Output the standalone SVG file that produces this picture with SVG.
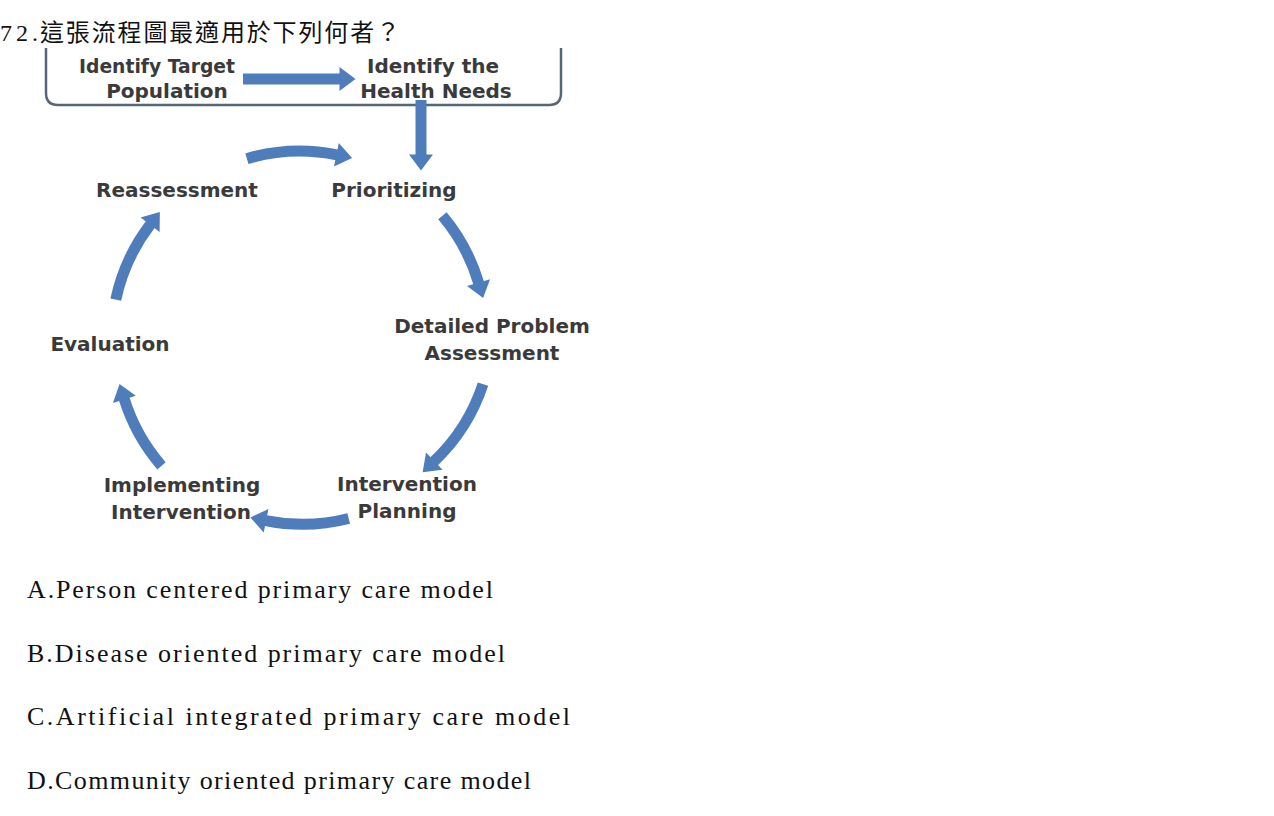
<svg xmlns="http://www.w3.org/2000/svg" width="1274" height="816" viewBox="0 0 1274 816">
<style>
.q{font-family:"Liberation Serif","Noto Sans CJK TC",serif;font-size:24px;fill:#111}
.opt{font-family:"Liberation Serif",serif;font-size:26px;fill:#111}
.lbl{font-family:"DejaVu Sans",Verdana,sans-serif;font-size:20px;font-weight:bold;fill:#3a3a3a;text-anchor:middle}
.arc{fill:none;stroke:#4f7cba;stroke-width:11;stroke-linecap:butt}
</style>
<defs>
<marker id="ah" viewBox="-1 -13 18 26" refX="0.5" refY="0" markerWidth="18" markerHeight="26" markerUnits="userSpaceOnUse" orient="auto">
<path d="M0,-12 L16,0 L0,12 z" fill="#4f7cba"/>
</marker>
</defs>
<rect width="1274" height="816" fill="#fff"/>
<text class="q" x="0" y="41"><tspan textLength="38" lengthAdjust="spacing">72.</tspan><tspan x="40" textLength="360" lengthAdjust="spacing">這張流程圖最適用於下列何者？</tspan></text>
<path d="M46,48 V93 Q46,105 58,105 H549 Q561,105 561,93 V48" fill="none" stroke="#56657a" stroke-width="2.5"/>
<g id="n-target"><text class="lbl" x="157" y="73" textLength="156" lengthAdjust="spacingAndGlyphs">Identify Target</text><text class="lbl" x="167" y="98">Population</text></g>
<g id="n-needs"><text class="lbl" x="433" y="73">Identify the</text><text class="lbl" x="436" y="98">Health Needs</text></g>
<g id="n-prior"><text class="lbl" x="394" y="197">Prioritizing</text></g>
<g id="n-reass"><text class="lbl" x="177" y="197">Reassessment</text></g>
<g id="n-detail"><text class="lbl" x="492" y="333">Detailed Problem</text><text class="lbl" x="492" y="360">Assessment</text></g>
<g id="n-eval"><text class="lbl" x="110" y="351">Evaluation</text></g>
<g id="n-plan"><text class="lbl" x="407" y="491">Intervention</text><text class="lbl" x="407" y="518">Planning</text></g>
<g id="n-impl"><text class="lbl" x="182" y="492">Implementing</text><text class="lbl" x="181" y="519">Intervention</text></g>
<g id="connectors">
<path class="arc" d="M243,79 H340" marker-end="url(#ah)"/>
<path class="arc" d="M421,100 V155" marker-end="url(#ah)"/>
<path class="arc" d="M246.9,158.7 A187,187 0 0 1 336.9,154.9" marker-end="url(#ah)"/>
<path class="arc" d="M442.4,215.8 A187,187 0 0 1 478.7,283.1" marker-end="url(#ah)"/>
<path class="arc" d="M483,384.1 A187,187 0 0 1 433.9,461.5" marker-end="url(#ah)"/>
<path class="arc" d="M348.7,518.5 A187,187 0 0 1 265.6,520.6" marker-end="url(#ah)"/>
<path class="arc" d="M161.5,465.8 A187,187 0 0 1 124.2,398.9" marker-end="url(#ah)"/>
<path class="arc" d="M115.8,299.7 A187,187 0 0 1 150.4,224.4" marker-end="url(#ah)"/>
</g>
<text class="opt" x="27" y="598" textLength="466" lengthAdjust="spacing">A.Person centered primary care model</text>
<text class="opt" x="27" y="662" textLength="478" lengthAdjust="spacing">B.Disease oriented primary care model</text>
<text class="opt" x="27" y="725" textLength="543" lengthAdjust="spacing">C.Artificial integrated primary care model</text>
<text class="opt" x="27" y="789" textLength="504" lengthAdjust="spacing">D.Community oriented primary care model</text>
</svg>
